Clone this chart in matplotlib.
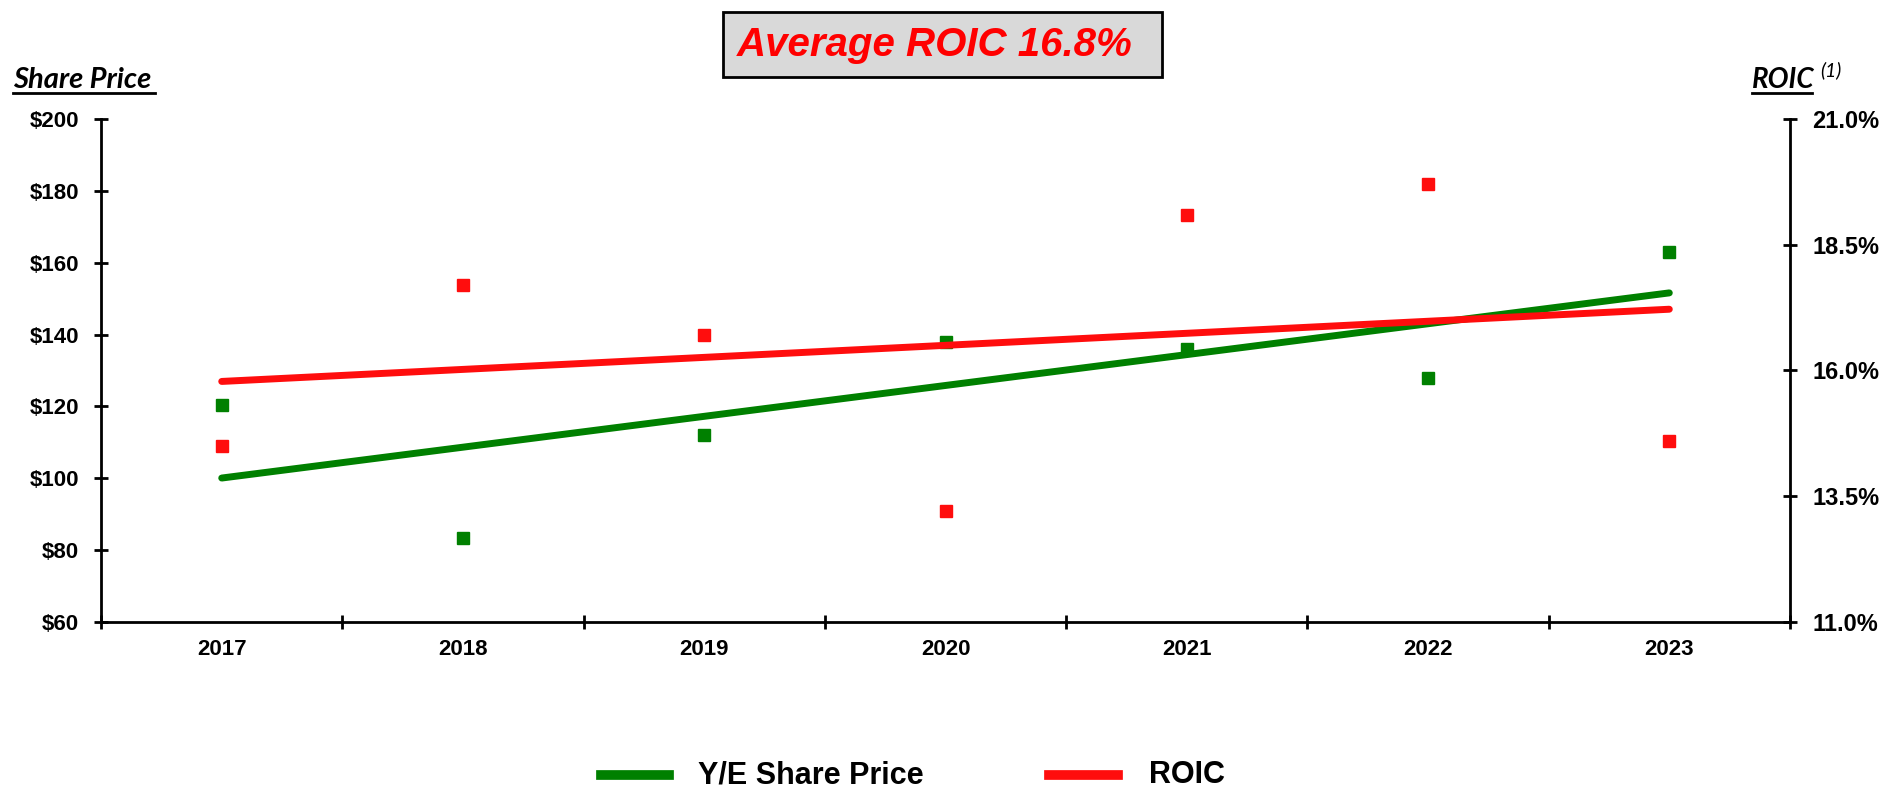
import numpy as np
import matplotlib.pyplot as plt
from matplotlib.lines import Line2D
from matplotlib.patches import Rectangle

years = ['2017', '2018', '2019', '2020', '2021', '2022', '2023']
share_price = [120.5, 83.5, 112.0, 137.8, 136.0, 128.0, 163.0]
roic = [14.5, 17.7, 16.7, 13.2, 19.1, 19.7, 14.6]

green = '#008000'
red = '#ff0d0d'
bold_font = ['Liberation Sans', 'DejaVu Sans']
W, H = 1879, 787


def fx(px):
    return px / W


def fy(py):
    return 1 - py / H


fig = plt.figure(figsize=(W / 100, H / 100), dpi=100)
ax = fig.add_axes([0.0538, 0.2097, 0.8988, 0.6391])
ax2 = ax.twinx()

x = np.arange(len(years))

# scatter points
ax.plot(x, share_price, 's', color=green, markersize=8, zorder=3)
ax2.plot(x, roic, 's', color=red, markersize=8, zorder=3)

# linear trend lines
p1 = np.polyfit(x, share_price, 1)
p2 = np.polyfit(x, roic, 1)
xx = np.array([x[0], x[-1]])
ax.plot(xx, np.polyval(p1, xx), color=green, lw=5, solid_capstyle='round', zorder=4)
ax2.plot(xx, np.polyval(p2, xx), color=red, lw=5, solid_capstyle='round', zorder=2)

ax.set_xlim(-0.5, len(years) - 0.5)
ax.set_ylim(60, 200)
ax2.set_ylim(11, 21)
ax.set_yticks(np.arange(60, 201, 20))
ax.set_yticklabels([f'${v}' for v in range(60, 201, 20)])
ax2.set_yticks([11, 13.5, 16, 18.5, 21])
ax2.set_yticklabels(['11.0%', '13.5%', '16.0%', '18.5%', '21.0%'])

ax.set_xticks(np.arange(-0.5, len(years), 1))
ax.set_xticklabels([])
ax.set_xticks(x, minor=True)
ax.set_xticklabels(years, minor=True)
ax.tick_params(axis='x', which='minor', length=0, pad=12)
ax.tick_params(axis='x', which='major', direction='inout', length=10, width=2)

for a in (ax, ax2):
    for s in a.spines.values():
        s.set_visible(False)
ax.spines['left'].set_visible(True)
ax.spines['bottom'].set_visible(True)
ax2.spines['right'].set_visible(True)
for s in ('left', 'bottom'):
    ax.spines[s].set_linewidth(2)
ax2.spines['right'].set_linewidth(2)

ax.tick_params(axis='y', direction='inout', length=10, width=2, pad=11)
ax2.tick_params(axis='y', direction='inout', length=10, width=2, pad=11)
for lab in ax.get_yticklabels() + ax.get_xticklabels(minor=True):
    lab.set_fontfamily(bold_font)
    lab.set_fontweight('bold')
    lab.set_fontsize(16)
for lab in ax2.get_yticklabels():
    lab.set_fontfamily(bold_font)
    lab.set_fontweight('bold')
    lab.set_fontsize(17)

# title box
fig.add_artist(Rectangle((fx(723), fy(77)), fx(1162) - fx(723), fy(12) - fy(77),
                         transform=fig.transFigure, facecolor='#d9d9d9',
                         edgecolor='black', lw=2))
fig.text(fx(935), fy(45), 'Average ROIC 16.8%', ha='center', va='center',
         fontsize=29, color='#ff0000', fontweight='bold', style='italic',
         family=bold_font)

# axis titles (underlined)
lab_font = ['Lato', 'DejaVu Sans']
fig.text(fx(13), fy(88), 'Share Price', ha='left', va='baseline', fontsize=21,
         fontweight='bold', style='italic', family=lab_font)
fig.add_artist(Line2D([fx(13), fx(155)], [fy(93), fy(93)], color='black', lw=2))
fig.text(fx(1752), fy(88), 'ROIC', ha='left', va='baseline', fontsize=20,
         fontweight='bold', style='italic', family=lab_font)
fig.add_artist(Line2D([fx(1752), fx(1812)], [fy(93), fy(93)], color='black', lw=2))
fig.text(fx(1820), fy(70), '(1)', ha='left', va='center', fontsize=14,
         style='italic', family=lab_font)

# legend
leg_font = dict(family=bold_font, fontweight='bold', fontsize=22, va='center', ha='left')
fig.add_artist(Line2D([fx(601), fx(669)], [fy(775), fy(775)], color=green, lw=7))
fig.text(fx(698), fy(775), 'Y/E Share Price', **leg_font)
fig.add_artist(Line2D([fx(1049), fx(1118)], [fy(775), fy(775)], color=red, lw=7))
fig.text(fx(1149), fy(775), 'ROIC', **leg_font)

fig.savefig('out.png', dpi=100)
